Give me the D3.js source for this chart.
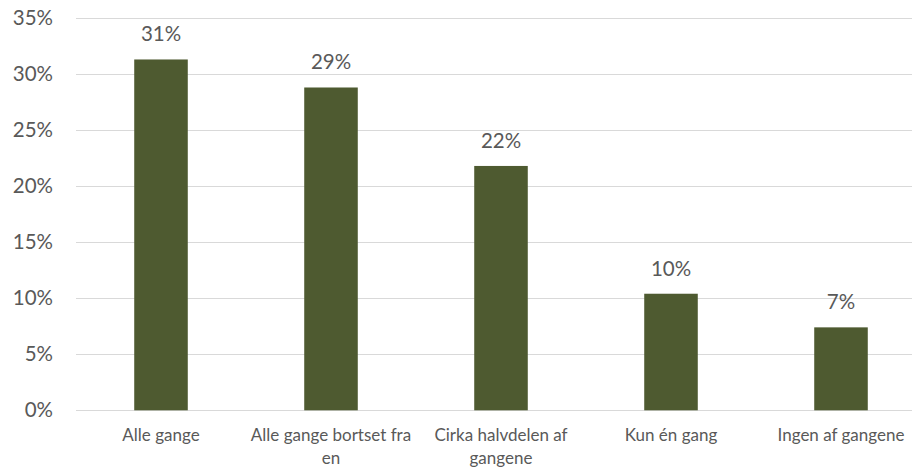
<!DOCTYPE html>
<html>
<head>
<meta charset="utf-8">
<script src="https://cdn.jsdelivr.net/npm/d3@7"></script>
<style>
  body { margin: 0; background: #fff; }
  text { font-family: Lato, "Open Sans", sans-serif; fill: #595959; }
</style>
</head>
<body>
<div id="chart"></div>
<script>
var width = 912, height = 470;

var categories = ["Alle gange", "Alle gange bortset fra en", "Cirka halvdelen af gangene", "Kun én gang", "Ingen af gangene"];
var values = [0.313, 0.288, 0.218, 0.104, 0.074];
var valueLabels = ["31%", "29%", "22%", "10%", "7%"];
var yTicks = [0, 0.05, 0.10, 0.15, 0.20, 0.25, 0.30, 0.35];

var x = d3.scaleBand()
    .domain(categories)
    .range([76, 926])
    .paddingInner(0.685)
    .paddingOuter(0.3425);

var y = d3.scaleLinear()
    .domain([0, 0.35])
    .range([410.3, 18]);

var svg = d3.select("#chart").append("svg")
    .attr("width", width)
    .attr("height", height);

// gridlines
svg.append("g")
    .selectAll("line")
    .data(yTicks)
    .enter()
    .append("line")
    .attr("x1", 76)
    .attr("x2", 926)
    .attr("y1", d => Math.round(y(d)) + 0.5)
    .attr("y2", d => Math.round(y(d)) + 0.5)
    .style("stroke", "#d9d9d9")
    .style("stroke-width", 1);

// y axis labels
var yAxis = d3.axisLeft(y)
    .tickValues(yTicks)
    .tickFormat(d3.format(".0%"))
    .tickSize(0)
    .tickPadding(0);

svg.append("g")
    .attr("transform", "translate(53,0)")
    .call(yAxis)
    .call(g => g.select(".domain").remove())
    .selectAll("text")
    .style("font-size", "20.5px")
    .style("font-family", "Lato, sans-serif")
    .attr("fill", "#595959");

// bars
svg.append("g")
    .selectAll("rect")
    .data(values)
    .enter()
    .append("rect")
    .attr("x", (d, i) => x(categories[i]))
    .attr("width", x.bandwidth())
    .attr("y", d => y(d))
    .attr("height", d => y(0) - y(d))
    .style("fill", "#4e5a30");

// value labels
svg.append("g")
    .selectAll("text")
    .data(values)
    .enter()
    .append("text")
    .attr("x", (d, i) => x(categories[i]) + x.bandwidth() / 2)
    .attr("y", d => y(d) - 18)
    .attr("text-anchor", "middle")
    .style("font-size", "20.5px")
    .text((d, i) => valueLabels[i]);

// category labels, wrapped
function wrap(textSel, maxW) {
    textSel.each(function() {
        var t = d3.select(this);
        var words = t.text().split(" ");
        var cx = t.attr("x");
        t.text(null);
        var line = [];
        var lineNo = 0;
        var tspan = t.append("tspan").attr("x", cx).attr("dy", 0);
        words.forEach(function(w) {
            line.push(w);
            tspan.text(line.join(" "));
            if (tspan.node().getComputedTextLength() > maxW && line.length > 1) {
                line.pop();
                tspan.text(line.join(" "));
                line = [w];
                lineNo++;
                tspan = t.append("tspan").attr("x", cx).attr("dy", 23).text(w);
            }
        });
    });
}

svg.append("g")
    .selectAll("text")
    .data(categories)
    .enter()
    .append("text")
    .attr("x", d => x(d) + x.bandwidth() / 2)
    .attr("y", 441)
    .attr("text-anchor", "middle")
    .style("font-size", "17px")
    .text(d => d)
    .call(wrap, 165);
</script>
</body>
</html>
